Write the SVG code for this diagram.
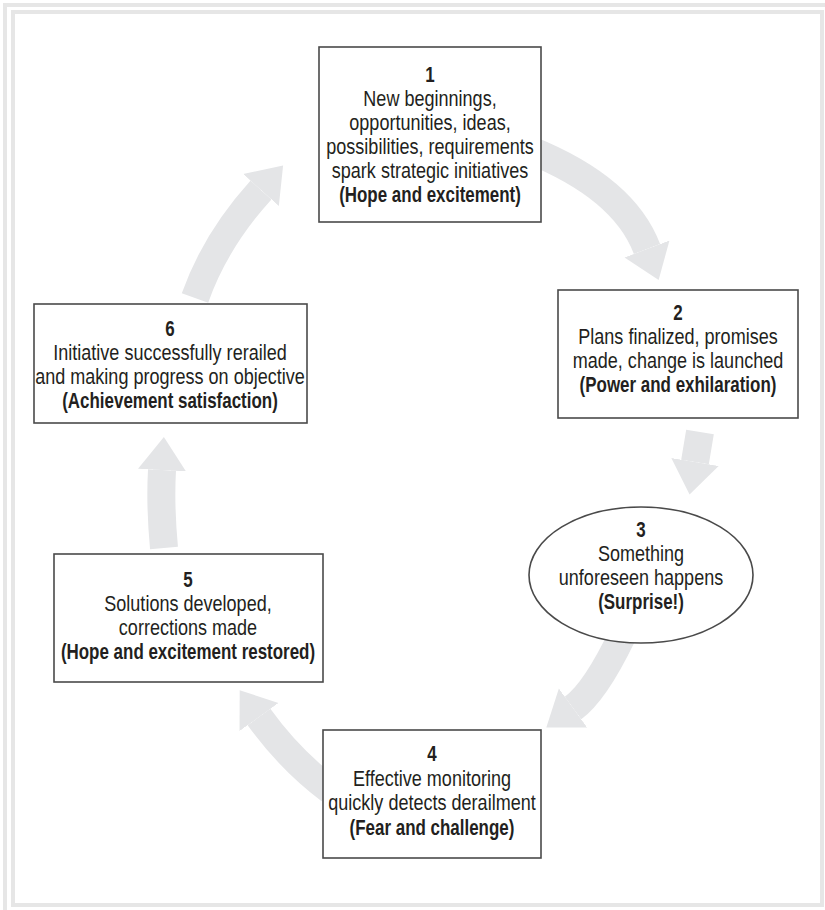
<svg xmlns="http://www.w3.org/2000/svg" width="825" height="910" viewBox="0 0 825 910">
<style>
.frame{fill:none;stroke:#e6e6e6;stroke-width:4}
.box{fill:#ffffff;stroke:#4a4a4a;stroke-width:1.6}
.arr{fill:none;stroke:#e4e5e7;stroke-width:28;stroke-linecap:butt}
text{font-family:"Liberation Sans",Arial,sans-serif;font-size:22px;fill:#231f20;text-anchor:middle}
.b{font-weight:bold}
</style>
<defs>
<marker id="head" markerUnits="userSpaceOnUse" markerWidth="34" markerHeight="50" refX="0" refY="25" orient="auto" viewBox="0 0 34 50">
<path d="M0,1 L33,25 L0,49 Z" fill="#e4e5e7"/>
</marker>
</defs>
<rect class="frame" x="5" y="5" width="900" height="1000"/>
<rect class="frame" x="13" y="12" width="809" height="893"/>
<g id="connectors">
<path class="arr" d="M530,150 Q624,188 647,249" marker-end="url(#head)"/>
<path class="arr" d="M700,432 Q697,450 695,462" marker-end="url(#head)"/>
<path class="arr" d="M622,636 Q595,692 573,708" marker-end="url(#head)"/>
<path class="arr" d="M330,790 Q290,760 259,717" marker-end="url(#head)"/>
<path class="arr" d="M164,548 Q160,505 162,470" marker-end="url(#head)"/>
<path class="arr" d="M195,298 Q215,241 261,190" marker-end="url(#head)"/>
</g>
<g id="node1">
<rect class="box" x="319" y="47" width="222" height="175"/>
<g transform="translate(430 0) scale(0.82 1)">
<text x="0" y="82" class="b" transform="scale(0.94 1)">1</text>
<text x="0" y="106">New beginnings,</text>
<text x="0" y="130">opportunities, ideas,</text>
<text x="0" y="154">possibilities, requirements</text>
<text x="0" y="178">spark strategic initiatives</text>
<text x="0" y="202" class="b" transform="scale(0.94 1)">(Hope and excitement)</text>
</g>
</g>
<g id="node2">
<rect class="box" x="558" y="290" width="240" height="128"/>
<g transform="translate(678 0) scale(0.82 1)">
<text x="0" y="320" class="b" transform="scale(0.94 1)">2</text>
<text x="0" y="344">Plans finalized, promises</text>
<text x="0" y="368">made, change is launched</text>
<text x="0" y="392" class="b" transform="scale(0.94 1)">(Power and exhilaration)</text>
</g>
</g>
<g id="node3">
<ellipse class="box" cx="641" cy="575" rx="112" ry="68"/>
<g transform="translate(641 0) scale(0.82 1)">
<text x="0" y="537" class="b" transform="scale(0.94 1)">3</text>
<text x="0" y="561">Something</text>
<text x="0" y="585">unforeseen happens</text>
<text x="0" y="609" class="b" transform="scale(0.94 1)">(Surprise!)</text>
</g>
</g>
<g id="node4">
<rect class="box" x="323" y="730" width="218" height="128"/>
<g transform="translate(432 0) scale(0.82 1)">
<text x="0" y="761" class="b" transform="scale(0.94 1)">4</text>
<text x="0" y="786">Effective monitoring</text>
<text x="0" y="810">quickly detects derailment</text>
<text x="0" y="835" class="b" transform="scale(0.94 1)">(Fear and challenge)</text>
</g>
</g>
<g id="node5">
<rect class="box" x="54" y="554" width="269" height="128"/>
<g transform="translate(188 0) scale(0.82 1)">
<text x="0" y="587" class="b" transform="scale(0.94 1)">5</text>
<text x="0" y="611">Solutions developed,</text>
<text x="0" y="635">corrections made</text>
<text x="0" y="659" class="b" transform="scale(0.94 1)">(Hope and excitement restored)</text>
</g>
</g>
<g id="node6">
<rect class="box" x="34" y="304" width="273" height="119"/>
<g transform="translate(170 0) scale(0.82 1)">
<text x="0" y="336" class="b" transform="scale(0.94 1)">6</text>
<text x="0" y="360">Initiative successfully rerailed</text>
<text x="0" y="384">and making progress on objective</text>
<text x="0" y="408" class="b" transform="scale(0.94 1)">(Achievement satisfaction)</text>
</g>
</g>
</svg>
